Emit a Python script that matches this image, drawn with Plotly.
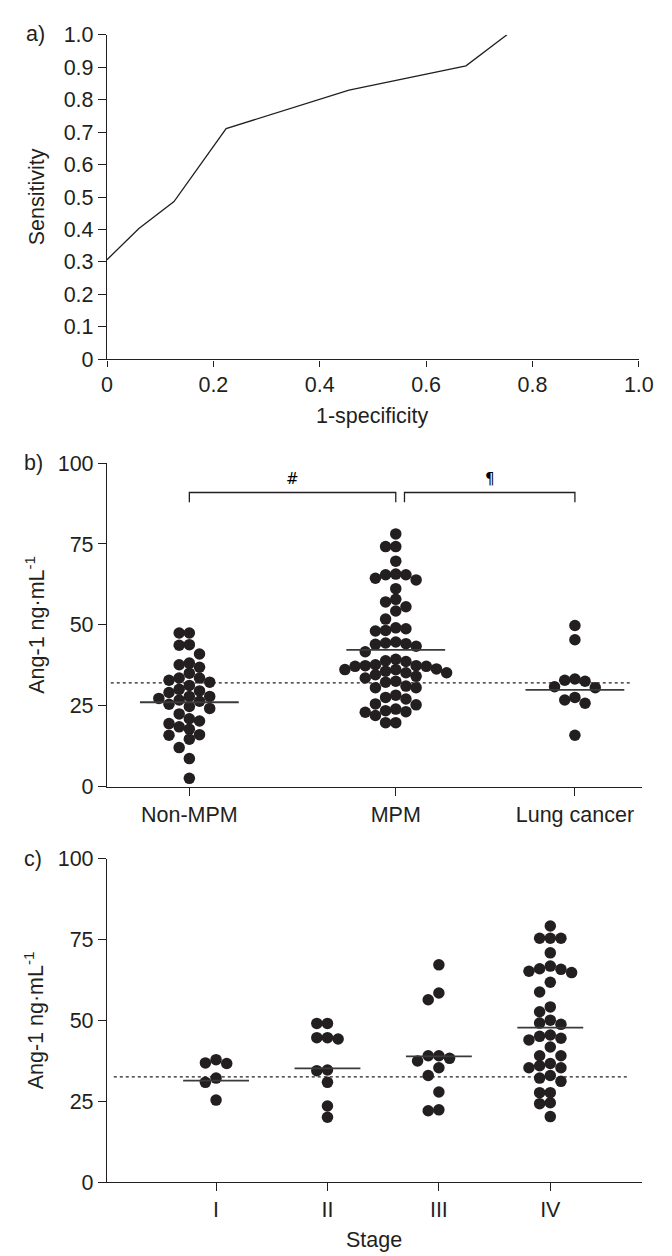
import plotly.graph_objects as go

# ---------------- data ----------------
# a) ROC curve
roc_fpr = [0, 0.06, 0.126, 0.224, 0.455, 0.675, 0.752]
roc_tpr = [0.307, 0.403, 0.486, 0.711, 0.829, 0.904, 1.0]
roc_xticks = [0, 0.2, 0.4, 0.6, 0.8, 1.0]
roc_xticktext = ["0", "0.2", "0.4", "0.6", "0.8", "1.0"]
roc_yticks = [0, 0.1, 0.2, 0.3, 0.4, 0.5, 0.6, 0.7, 0.8, 0.9, 1.0]
roc_yticktext = ["0", "0.1", "0.2", "0.3", "0.4", "0.5", "0.6", "0.7", "0.8", "0.9", "1.0"]

# b) Ang-1 by diagnosis
b_categories = ["Non-MPM", "MPM", "Lung cancer"]
non_mpm = [47.5, 47.5, 43.9, 43.7, 41.0, 38.2, 37.7, 36.9, 35.1, 33.6, 33.6, 32.9, 32.3,
           31.3, 30.1, 29.6, 29.1, 27.9, 27.9, 27.3, 26.8, 26.4, 25.5, 24.8, 24.2, 22.5,
           21.0, 20.3, 19.5, 18.5, 17.8, 16.1, 15.9, 14.7, 12.1, 8.7, 2.6]
mpm = [78.1, 74.2, 74.2, 69.7, 65.5, 64.4, 65.5, 63.9, 65.7, 61.2, 57.9, 57.1, 55.6, 54.3,
       51.8, 49.1, 48.3, 48.1, 48.8, 44.0, 44.7, 44.2, 44.4, 43.4, 41.7, 39.4, 38.9, 38.7,
       37.7, 36.2, 36.2, 37.4, 35.2, 37.2, 37.4, 35.7, 37.2, 35.2, 36.4, 34.1, 34.6, 33.6,
       32.6, 31.1, 32.3, 30.6, 30.6, 28.3, 27.6, 27.1, 25.6, 23.0, 24.0, 25.3, 23.2, 23.5,
       22.0, 19.8, 19.8]
lung_cancer = [49.8, 45.4, 33.3, 32.6, 32.9, 30.6, 30.9, 27.6, 25.8, 26.8, 15.9]
b_medians = [26.1, 42.3, 29.9]
b_cutoff = 32.1
b_sig_labels = ["#", "\u00b6"]

# c) Ang-1 by stage
c_categories = ["I", "II", "III", "IV"]
stage_i = [37.9, 36.9, 36.7, 32.2, 30.9, 25.4]
stage_ii = [49.1, 49.1, 44.7, 44.3, 44.7, 34.7, 34.5, 30.9, 23.6, 20.1]
stage_iii = [67.2, 58.5, 56.4, 39.1, 39.1, 38.3, 37.5, 35.4, 33.0, 27.9, 22.4, 22.1]
stage_iv = [79.2, 75.4, 75.4, 75.4, 70.9, 66.8, 66.0, 65.8, 65.2, 64.8, 61.8, 58.8, 54.2,
            52.7, 50.1, 49.2, 48.8, 45.5, 45.1, 44.5, 44.0, 41.8, 39.1, 39.1, 36.7, 36.0,
            35.4, 35.4, 33.0, 32.2, 31.2, 27.7, 27.7, 24.6, 24.3, 20.3]
c_medians = [31.4, 35.2, 38.9, 47.8]
c_cutoff = 32.6

ang_ticks = [0, 25, 50, 75, 100]

# ---------------- layout constants ----------------
W, H = 672, 1256
INK = "#231f20"
FONT = "Liberation Sans, Arial, Helvetica, sans-serif"
FS = 21.5


def px_x(p):
    return p / W


def px_y(p):
    return 1 - p / H


# category centres (axis fraction for panel b, category units for panel c)
b_pos = [0.154, 0.540, 0.875]
c_pos = [1, 2, 3, 4]
c_range = [0.021, 4.821]


def swarm(vals, thr):
    """Greedy column beeswarm: returns integer column offsets."""
    cols = [0] * len(vals)
    placed = []
    order = sorted(range(len(vals)), key=lambda i: -vals[i])
    cands = [0]
    for j in range(1, 30):
        cands += [-j, j]
    for i in order:
        for c in cands:
            if all(not (pc == c and abs(pv - vals[i]) < thr) for pc, pv in placed):
                cols[i] = c
                placed.append((c, vals[i]))
                break
    return cols


fig = go.Figure()

# ---- panel a ----
fig.add_trace(go.Scatter(x=roc_fpr, y=roc_tpr, mode="lines",
                         line=dict(color=INK, width=1.3),
                         xaxis="x", yaxis="y", showlegend=False))

# ---- panel b ----
b_groups = [non_mpm, mpm, lung_cancer]
b_step = 10.5 / 552.0
thr_b = 10.0 / 3.3
for pos, vals in zip(b_pos, b_groups):
    cols = swarm(vals, thr_b)
    fig.add_trace(go.Scatter(x=[pos + c * b_step for c in cols], y=vals, mode="markers",
                             marker=dict(size=11.5, color=INK, line=dict(width=0)),
                             xaxis="x2", yaxis="y2", showlegend=False, cliponaxis=False))
b_hw = 51 / 552.0
for pos, m in zip(b_pos, b_medians):
    fig.add_trace(go.Scatter(x=[pos - b_hw, pos + b_hw], y=[m, m], mode="lines",
                             line=dict(color="#3a3a3a", width=1.8),
                             xaxis="x2", yaxis="y2", showlegend=False))
fig.add_trace(go.Scatter(x=[0.007, 0.978], y=[b_cutoff, b_cutoff], mode="lines",
                         line=dict(color=INK, width=1.3, dash="3px,3px"),
                         xaxis="x2", yaxis="y2", showlegend=False))

# significance brackets
br_top, br_leg = 90.9, 87.9
gap = 9 / 552.0
brackets = [(b_pos[0], b_pos[1]), (b_pos[1] + gap, b_pos[2])]
for (x0, x1), lab in zip(brackets, b_sig_labels):
    fig.add_shape(type="path", xref="x2", yref="y2",
                  path=f"M {x0},{br_leg} L {x0},{br_top} L {x1},{br_top} L {x1},{br_leg}",
                  line=dict(color=INK, width=1.3))
    fig.add_annotation(x=(x0 + x1) / 2, y=95.0, xref="x2", yref="y2", text=lab,
                       showarrow=False,
                       font=dict(size=15, color="#000000", family="DejaVu Sans, sans-serif"))

# ---- panel c ----
c_groups = [stage_i, stage_ii, stage_iii, stage_iv]
c_step = 11.0 / 552.0 * 4.8
thr_c = 10.0 / 3.3
for pos, vals in zip(c_pos, c_groups):
    cols = swarm(vals, thr_c)
    fig.add_trace(go.Scatter(x=[pos + c * c_step for c in cols], y=vals, mode="markers",
                             marker=dict(size=11.5, color=INK, line=dict(width=0)),
                             xaxis="x3", yaxis="y3", showlegend=False, cliponaxis=False))
c_hw = 34 / 552.0 * 4.8
for pos, m in zip(c_pos, c_medians):
    fig.add_trace(go.Scatter(x=[pos - c_hw, pos + c_hw], y=[m, m], mode="lines",
                             line=dict(color="#3a3a3a", width=1.8),
                             xaxis="x3", yaxis="y3", showlegend=False))
fig.add_trace(go.Scatter(x=[0.082, 4.707], y=[c_cutoff, c_cutoff], mode="lines",
                         line=dict(color=INK, width=1.3, dash="3px,3px"),
                         xaxis="x3", yaxis="y3", showlegend=False))

# ---------------- axes ----------------
common = dict(showline=True, linecolor=INK, linewidth=1.3, ticks="outside",
              tickcolor=INK, tickwidth=1.3, showgrid=False, zeroline=False,
              tickfont=dict(size=FS, color=INK, family=FONT))

fig.update_layout(
    width=W, height=H, margin=dict(l=0, r=0, t=0, b=0),
    paper_bgcolor="white", plot_bgcolor="white",
    font=dict(family=FONT, color=INK, size=FS),
    xaxis=dict(domain=[px_x(96), px_x(645)], range=[0, 1], tickvals=roc_xticks,
               ticktext=roc_xticktext, ticklen=6, anchor="y", **common),
    yaxis=dict(domain=[px_y(347), px_y(16)], range=[0, 1], tickvals=roc_yticks,
               ticktext=roc_yticktext, ticklen=8, anchor="x", **common),
    xaxis2=dict(domain=[px_x(96), px_x(648)], range=[0, 1], tickvals=b_pos,
                ticktext=b_categories, ticklen=8, anchor="y2", **common),
    yaxis2=dict(domain=[px_y(782.7), px_y(452.7)], range=[0, 100], tickvals=ang_ticks,
                ticklen=8, anchor="x2", **common),
    xaxis3=dict(domain=[px_x(96), px_x(648)], range=c_range, tickvals=c_pos,
                ticktext=c_categories, ticklen=8, anchor="y3", **common),
    yaxis3=dict(domain=[px_y(1186), px_y(856)], range=[0, 100], tickvals=ang_ticks,
                ticklen=8, anchor="x3", **common),
)

ann_font = dict(size=FS, color=INK, family=FONT)
texts = [
    ("a)", 22, 15, 0),
    ("b)", 20, 452.7, 0),
    ("c)", 20, 856, 0),
    ("Sensitivity", 24, 181.5, -90),
    ("Ang-1 ng\u00b7mL<sup>-1</sup>", 21.5, 617.7, -90),
    ("Ang-1 ng\u00b7mL<sup>-1</sup>", 21.5, 1021, -90),
    ("1-specificity", 370.5, 405, 0),
    ("Stage", 372, 1245, 0),
]
for t, x, y, ang in texts:
    fig.add_annotation(x=px_x(x), y=px_y(y), xref="paper", yref="paper", text=t,
                       showarrow=False, textangle=ang, xanchor="center", yanchor="middle",
                       font=ann_font)

fig.write_html("out.html")
